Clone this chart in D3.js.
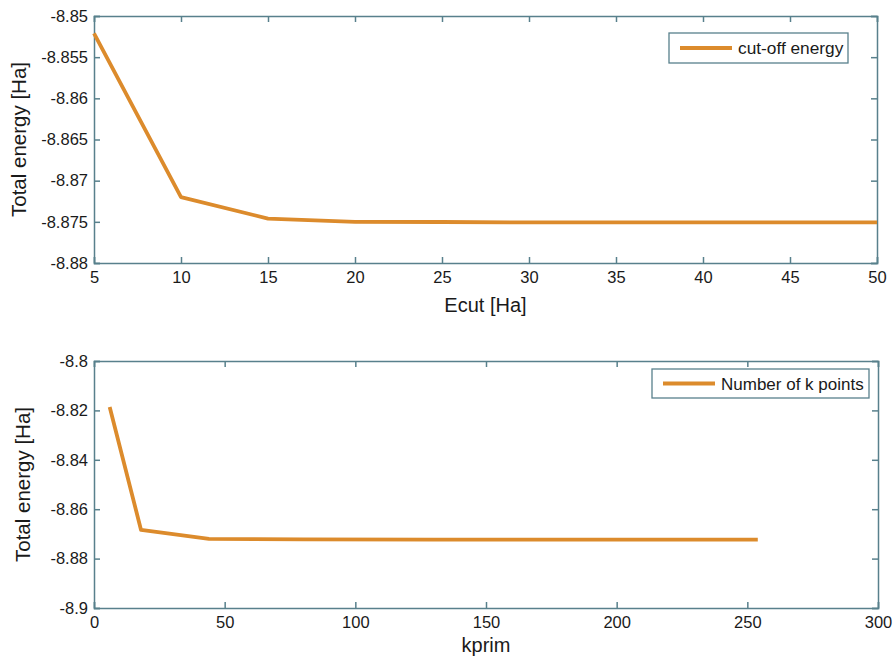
<!DOCTYPE html>
<html><head><meta charset="utf-8">
<script src="https://cdn.jsdelivr.net/npm/d3@7"></script>
<style>body{margin:0;background:#fff}text{font-family:"Liberation Sans",Arial,sans-serif;fill:#1a1a1a}</style>
</head><body>
<svg id="c" width="894" height="659"></svg>
<script>
const ecut = [5, 10, 15, 20, 25, 30, 35, 40, 45, 50];
const ecutEnergy = [-8.8521, -8.8720, -8.8746, -8.8750, -8.87502, -8.87507, -8.87507, -8.87507, -8.87507, -8.87507];
const ecutTicksX = [5, 10, 15, 20, 25, 30, 35, 40, 45, 50];
const ecutTicksY = [-8.85, -8.855, -8.86, -8.865, -8.87, -8.875, -8.88];
const kprim = [6, 18, 44, 80, 130, 190, 254];
const kEnergy = [-8.8186, -8.8684, -8.8720, -8.8722, -8.8723, -8.8723, -8.8723];
const kTicksX = [0, 50, 100, 150, 200, 250, 300];
const kTicksY = [-8.8, -8.82, -8.84, -8.86, -8.88, -8.9];

const svg = d3.select("#c");
const axisColor = "#58808c", lineColor = "#dc8b2c";
const FONT = "Liberation Sans, Arial, sans-serif";

function panel(o) {
  const g = svg.append("g");
  const x = d3.scaleLinear().domain(o.xd).range([o.l, o.r]);
  const y = d3.scaleLinear().domain(o.yd).range([o.b, o.t]);
  const fmt = d => String(d);
  const ax = [
    [d3.axisBottom(x).tickValues(o.tx).tickSize(-6).tickPadding(8).tickFormat(fmt), `translate(0,${o.b})`],
    [d3.axisTop(x).tickValues(o.tx).tickSize(-6).tickFormat(""), `translate(0,${o.t})`],
    [d3.axisLeft(y).tickValues(o.ty).tickSize(-6).tickPadding(6).tickFormat(fmt), `translate(${o.l},0)`],
    [d3.axisRight(y).tickValues(o.ty).tickSize(-6).tickFormat(""), `translate(${o.r},0)`]
  ];
  ax.forEach(([a, tr]) => {
    const s = g.append("g").attr("transform", tr).call(a);
    s.attr("font-size", 16.5).attr("font-family", FONT);
    s.select(".domain").attr("stroke", axisColor).attr("stroke-width", 1.5);
    s.selectAll(".tick line").attr("stroke", axisColor).attr("stroke-width", 1.5);
    s.selectAll(".tick text").attr("fill", "#1a1a1a");
  });
  const line = d3.line().x(d => x(d[0])).y(d => y(d[1]));
  g.append("path").datum(o.xs.map((v, i) => [v, o.ys[i]]))
    .attr("d", line).attr("fill", "none").attr("stroke", lineColor)
    .attr("stroke-width", 3.8).attr("stroke-linejoin", "round");
  g.append("text").attr("x", (o.l + o.r) / 2).attr("y", o.xlY).attr("text-anchor", "middle")
    .attr("font-size", 20).text(o.xl);
  g.append("text").attr("transform", `translate(${o.ylX},${(o.t + o.b) / 2}) rotate(-90)`)
    .attr("text-anchor", "middle").attr("font-size", 20.5).text("Total energy [Ha]");
  const lg = o.lg;
  g.append("rect").attr("x", lg.x).attr("y", lg.y).attr("width", lg.w).attr("height", lg.h)
    .attr("fill", "#fff").attr("stroke", axisColor).attr("stroke-width", 1.3);
  g.append("line").attr("x1", lg.x + 11).attr("x2", lg.x + 63).attr("y1", lg.y + lg.h / 2).attr("y2", lg.y + lg.h / 2)
    .attr("stroke", lineColor).attr("stroke-width", 3.8);
  g.append("text").attr("x", lg.x + 69).attr("y", lg.y + lg.h / 2 + 6).attr("font-size", lg.fs).text(o.name);
}

panel({xd: [5, 50], yd: [-8.88, -8.85], l: 94, r: 877, t: 16, b: 263,
  tx: ecutTicksX, ty: ecutTicksY, xs: ecut, ys: ecutEnergy,
  xl: "Ecut [Ha]", xlY: 312, ylX: 26, name: "cut-off energy",
  lg: {x: 669, y: 33, w: 179, h: 30, fs: 17.3}});
panel({xd: [0, 300], yd: [-8.9, -8.8], l: 94, r: 878, t: 361, b: 608,
  tx: kTicksX, ty: kTicksY, xs: kprim, ys: kEnergy,
  xl: "kprim", xlY: 652, ylX: 30, name: "Number of k points",
  lg: {x: 652, y: 369, w: 217, h: 29, fs: 17}});
</script>
</body></html>
